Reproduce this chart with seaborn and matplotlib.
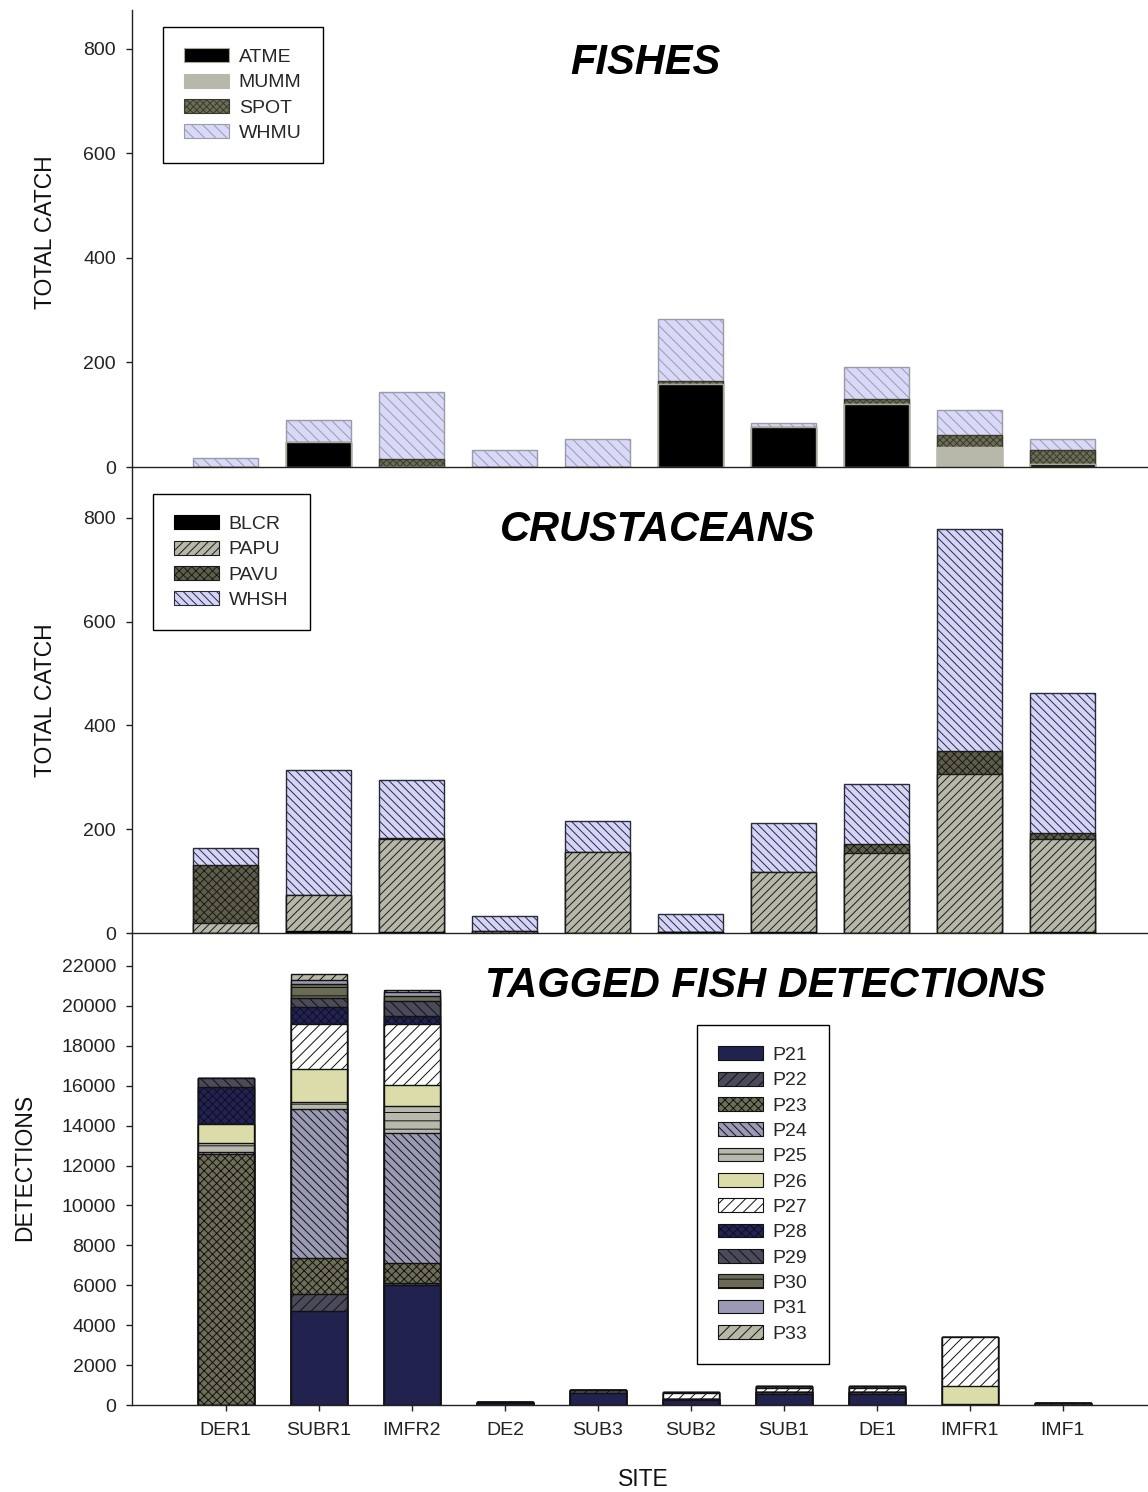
import numpy as np
import pandas as pd
import matplotlib
matplotlib.use("Agg")
import matplotlib.pyplot as plt
import seaborn as sns
from matplotlib.patches import Patch

# ---------------- data ----------------
sites = ["DER1", "SUBR1", "IMFR2", "DE2", "SUB3", "SUB2", "SUB1", "DE1", "IMFR1", "IMF1"]

# Fishes (total catch)
fish_names = ["ATME", "MUMM", "SPOT", "WHMU"]
ATME = [0, 47, 0, 0, 0, 158, 77, 120, 0, 5]
MUMM = [0, 0, 0, 0, 0, 0, 0, 0, 39, 0]
SPOT = [0, 0, 16, 0, 0, 6, 0, 11, 22, 28]
WHMU = [18, 42, 127, 33, 53, 120, 8, 61, 48, 20]

# Crustaceans (total catch)
crus_names = ["BLCR", "PAPU", "PAVU", "WHSH"]
BLCR = [0, 3, 2, 0, 0, 2, 2, 0, 0, 2]
PAPU = [20, 70, 179, 3, 157, 0, 115, 154, 307, 179]
PAVU = [112, 0, 3, 0, 0, 0, 0, 18, 44, 12]
WHSH = [32, 241, 111, 30, 59, 35, 96, 115, 428, 269]

# Tagged fish detections
tag_names = ["P21", "P22", "P23", "P24", "P25", "P26", "P27", "P28", "P29", "P30", "P31", "P33"]
P21 = [0, 4700, 6000, 100, 580, 250, 550, 550, 0, 0]
P22 = [0, 880, 120, 70, 150, 50, 100, 100, 0, 100]
P23 = [12600, 1780, 1000, 0, 0, 0, 0, 0, 0, 0]
P24 = [80, 7470, 6520, 0, 0, 0, 0, 0, 0, 0]
P25 = [430, 330, 1330, 0, 0, 0, 0, 0, 50, 0]
P26 = [970, 1700, 1080, 0, 0, 0, 0, 0, 920, 0]
P27 = [0, 2220, 3030, 0, 0, 300, 200, 200, 2420, 0]
P28 = [1870, 870, 420, 0, 0, 0, 0, 0, 0, 0]
P29 = [430, 430, 750, 0, 0, 30, 80, 80, 0, 0]
P30 = [0, 730, 250, 0, 0, 0, 0, 0, 0, 0]
P31 = [0, 170, 170, 0, 0, 0, 0, 0, 0, 0]
P33 = [0, 300, 120, 0, 0, 0, 0, 0, 0, 0]

# ---------------- style ----------------
sns.set_style("ticks")
plt.rcParams["font.family"] = ["Liberation Sans", "DejaVu Sans"]
plt.rcParams["hatch.linewidth"] = 0.7

W, H = 1148, 1492
fig = plt.figure(figsize=(W / 100, H / 100), dpi=100)


def fx(px):
    return px / W


def fy(py):
    return 1 - py / H


left = fx(132)
width = 1 - left
ax1 = fig.add_axes([left, fy(467), width, (467 - 10) / H])
ax2 = fig.add_axes([left, fy(933), width, (933 - 467) / H])
ax3 = fig.add_axes([left, fy(1405), width, (1405 - 933) / H])


def stacked(ax, layers, faces, hatches, edges, bw, lw=1.0):
    vals = np.array(layers, dtype=float)
    cum = np.cumsum(vals, axis=0)
    for i in reversed(range(len(layers))):
        df = pd.DataFrame({"site": sites, "val": cum[i]})
        sns.barplot(data=df, x="site", y="val", order=sites, color=faces[i],
                    hatch=hatches[i], edgecolor=edges[i], linewidth=lw,
                    width=bw, saturation=1, errorbar=None, ax=ax)


fish_faces = ["#000000", "#b8b8aa", "#6e6e58", "#d8d8f8"]
fish_hatch = ["", "", "xxxxx", "\\" * 3]
fish_edges = ["#a8a898", "#b8b8aa", "#3a3a2c", "#9a9aa8"]
stacked(ax1, [ATME, MUMM, SPOT, WHMU], fish_faces, fish_hatch, fish_edges, 0.7)

crus_faces = ["#000000", "#b8b8aa", "#5e5e48", "#d4d4f8"]
crus_hatch = ["", "/" * 4, "xxxx", "\\" * 4]
crus_edges = ["#000000", "#1a1a1a", "#1a1a1a", "#2a2a3a"]
stacked(ax2, [BLCR, PAPU, PAVU, WHSH], crus_faces, crus_hatch, crus_edges, 0.7)

tag_faces = ["#22224e", "#4a4a5a", "#6e6e58", "#9a9ab4", "#b8b8ac", "#dcdcaa",
             "#ffffff", "#22225a", "#4a4a5a", "#6a6a56", "#9a9ab4", "#b8b8a8"]
tag_hatch = ["", "///", "xxxx", "\\" * 4, "--", "", "///", "xxxx", "\\" * 3, "--", "", "///"]
tag_edges = ["#111111"] * 12
stacked(ax3, [P21, P22, P23, P24, P25, P26, P27, P28, P29, P30, P31, P33],
        tag_faces, tag_hatch, tag_edges, 0.61)

# ---------------- axes ----------------
ylims = [(0, 874.6), (0, 898.3), (0, 23650)]
yticks = [np.arange(0, 801, 200), np.arange(0, 801, 200), np.arange(0, 22001, 2000)]
for ax, yl, yt in zip([ax1, ax2, ax3], ylims, yticks):
    ax.set_xlim(-1.01, 9.915)
    ax.set_ylim(*yl)
    ax.set_yticks(yt)
    ax.set_yticklabels([str(int(v)) for v in yt])
    ax.set_xlabel("")
    ax.set_ylabel("")
    ax.spines["top"].set_visible(False)
    ax.spines["right"].set_visible(False)
    for s in ["left", "bottom"]:
        ax.spines[s].set_color("#222222")
        ax.spines[s].set_linewidth(1.0)
    ax.tick_params(axis="y", direction="out", length=4.5, width=1, pad=7,
                   labelsize=14, colors="#222222")
    ax.patch.set_alpha(0)

for ax in [ax1, ax2]:
    ax.tick_params(axis="x", bottom=False, labelbottom=False)
ax3.tick_params(axis="x", direction="out", length=4.5, width=1, pad=8,
                labelsize=14, colors="#222222")

# ---------------- legends ----------------
def make_legend(ax, names, faces, hatches, edges, x0, y0):
    handles = [Patch(facecolor=f, hatch=h, edgecolor=e, linewidth=0.8, label=n)
               for n, f, h, e in zip(names, faces, hatches, edges)]
    leg = ax.legend(handles=handles, loc="upper left",
                    bbox_to_anchor=(fx(x0), fy(y0)), bbox_transform=fig.transFigure,
                    borderaxespad=0, frameon=True, fancybox=False, framealpha=1,
                    edgecolor="black", fontsize=14, handlelength=2.3,
                    handleheight=0.72, handletextpad=0.5, labelspacing=0.39,
                    borderpad=1.1)
    leg.get_frame().set_linewidth(1.0)
    return leg


make_legend(ax1, fish_names, fish_faces, fish_hatch,
            ["#a8a898", "#b8b8aa", "#3a3a2c", "#9a9aa8"], 163, 27)
make_legend(ax2, crus_names, crus_faces, crus_hatch, crus_edges, 153, 494)
make_legend(ax3, tag_names, tag_faces, tag_hatch, tag_edges, 697, 1025)

# ---------------- texts ----------------
tkw = dict(fontsize=30, fontweight="bold", fontstyle="italic", ha="center",
           va="center", color="black")
fig.text(fx(645), fy(63), "FISHES", **tkw)
fig.text(fx(658), fy(530), "CRUSTACEANS", **tkw)
fig.text(fx(765), fy(986), "TAGGED FISH DETECTIONS", **tkw)

lkw = dict(fontsize=16.5, ha="center", va="center", rotation=90, color="#111111")
fig.text(fx(46), fy(232), "TOTAL CATCH", **lkw)
fig.text(fx(46), fy(700), "TOTAL CATCH", **lkw)
fig.text(fx(25), fy(1167), "DETECTIONS", **lkw)
fig.text(fx(643), fy(1480), "SITE", fontsize=16.5, ha="center", va="center",
         color="#111111")

fig.savefig("out.png", dpi=100)
